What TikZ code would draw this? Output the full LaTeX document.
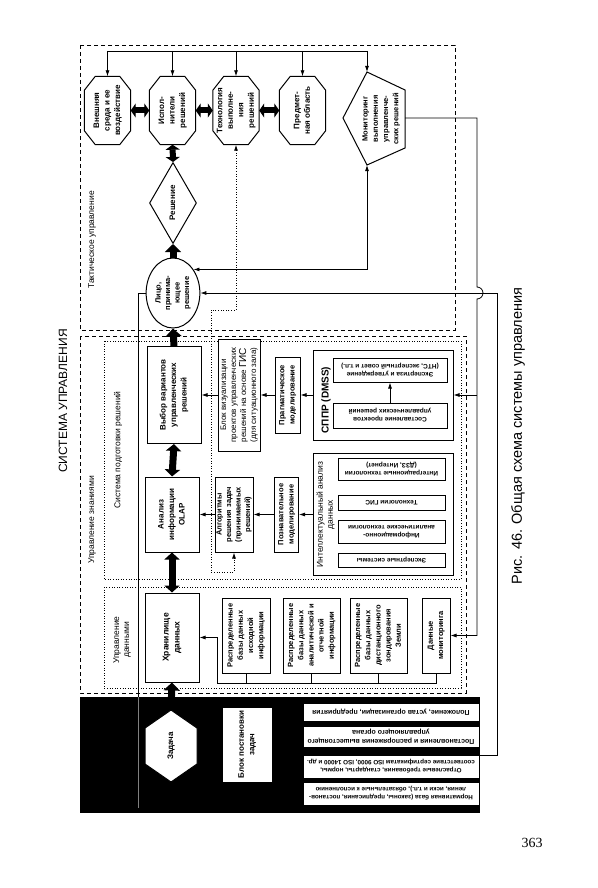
\documentclass[tikz,border=0pt]{standalone}
\usepackage{fontspec}
\setmainfont{Liberation Sans}
\newfontfamily\pnfont{Liberation Serif}
\usepackage{graphicx}
\usetikzlibrary{arrows.meta,shapes.geometric,calc}
\newcommand\rl[1]{\rotatebox{90}{\begin{tabular}{@{}c@{}}#1\end{tabular}}}
\newcommand\rd[1]{\rotatebox{180}{\begin{tabular}{@{}c@{}}#1\end{tabular}}}
\newcommand\octnode[4]{%
  \node[bl, minimum width=46pt, minimum height=68pt] (#1) at (#2,#3) {\rl{#4}};
  \draw[lw] ($(#1.north west)+(11,0)$) -- ($(#1.north east)+(-11,0)$) -- ($(#1.north east)+(0,14)$)
    -- ($(#1.south east)+(0,-14)$) -- ($(#1.south east)+(-11,0)$) -- ($(#1.south west)+(11,0)$)
    -- ($(#1.south west)+(0,-14)$) -- ($(#1.north west)+(0,14)$) -- cycle;}
\begin{document}
\begin{tikzpicture}[x=1pt,y=-1pt,
  lw/.style={line width=1pt},
  dsh/.style={line width=0.9pt, dash pattern=on 4pt off 3pt},
  dtt/.style={line width=0.9pt, dash pattern=on 1pt off 1.6pt},
  box/.style={draw, line width=1pt, fill=white, inner sep=0pt},
  bl/.style={font=\fontsize{8}{10.5}\selectfont\bfseries, inner sep=0pt},
  sm/.style={font=\fontsize{7.5}{10.2}\selectfont\bfseries, inner sep=0pt},
  tn/.style={font=\fontsize{6.5}{8}\selectfont\bfseries, inner sep=0pt},
  fr/.style={font=\fontsize{8.5}{10}\selectfont, inner sep=0pt},
  thk/.style={line width=7pt, {Triangle[width=15pt,length=7pt]}-{Triangle[width=15pt,length=7pt]}},
  thks/.style={line width=6pt, {Triangle[width=14pt,length=5pt]}-{Triangle[width=14pt,length=5pt]}},
  thku/.style={line width=7pt, -{Triangle[width=16pt,length=8pt]}},
  arr/.style={line width=0.8pt, -{Latex[length=6pt,width=4pt]}},
  arrb/.style={line width=0.8pt, {Latex[length=6pt,width=4pt]}-{Latex[length=6pt,width=4pt]}},
  ln/.style={line width=0.8pt}
]
\useasboundingbox (0,0) rectangle (597,888);
% frames
\draw[dsh] (80,45) rectangle (455,330);
\draw[dsh] (80,336) rectangle (466,693);
\draw[dtt] (104,341) rectangle (461,579);
\draw[dtt] (104,587) rectangle (461,688);
\node[fill=black, draw=black, minimum width=399pt, minimum height=115pt, inner sep=0pt] (band) at (279.5,754.5) {};
% frame labels
\node[fr, rotate=90] (ltac) at (92,240) {Тактическое управление};
\node[fr, rotate=90] (lknow) at (92,520) {Управление знаниями};
\node[fr, rotate=90] (lprep) at (118,450) {Система подготовки решений};
\node[fr, rotate=90, align=center] (ldata) at (122,640) {Управление\\данными};
% title, caption, page number
\node[font=\fontsize{12}{14}\selectfont, rotate=90] (title) at (63,401) {СИСТЕМА УПРАВЛЕНИЯ};
\node[font=\fontsize{14.5}{16}\selectfont, rotate=90] (cap) at (518,436) {Рис. 46. Общая схема системы управления};
\node[font=\pnfont\fontsize{14}{16}\selectfont] (pn) at (532,843) {363};
% tactical level
\octnode{ext}{107.5}{110.5}{Внешняя\\среда и ее\\воздействие}
\octnode{exe}{172.5}{110.5}{Испол-\\нители\\решений}
\octnode{tech}{236}{110.5}{\fontsize{8}{10}\selectfont Технология\\выполне-\\ния\\решений}
\octnode{subj}{302.5}{110.5}{Предмет-\\ная область}
\coordinate (montop) at (367,72);
\coordinate (monbot) at (367,165);
\coordinate (monright) at (405,118);
\coordinate (monleft) at (343,118);
\draw[lw] (montop) -- (405,90) -- (405,148) -- (monbot) -- (monleft) -- cycle;
\node[sm] (mon) at (381,119) {\rl{Мониторинг\\выполнения\\управленче-\\ских решений}};
\node[draw, lw, diamond, aspect=0.58, minimum width=47pt, minimum height=81pt, inner sep=0pt, bl] (dec) at (173,203) {\rl{Решение}};
\node[draw, lw, ellipse, minimum width=53pt, minimum height=70pt, inner sep=0pt, font=\fontsize{7.5}{9.5}\selectfont\bfseries] (lpr) at (173,293) {\rl{Лицо,\\принима-\\ющее\\решение}};
% decision preparation
\node[box, bl, minimum width=54pt, minimum height=97pt] (vyb) at (174,395) {\rl{Выбор вариантов\\управленческих\\решений}};
\node[box, font=\fontsize{8}{10}\selectfont, minimum width=42pt, minimum height=112pt] (viz) at (239,395) {\rl{Блок визуализации\\проектов управленческих\\решений на основе {\fontsize{10}{10}\selectfont ГИС}\\(для ситуационного зала)}};
\node[box, sm, minimum width=25pt, minimum height=76pt] (prag) at (287.5,395) {\rl{Прагматическое\\моделирование}};
\node[box, fill=none, minimum width=140pt, minimum height=90pt] (sppr) at (383,395) {};
\node[font=\fontsize{10}{12}\selectfont\bfseries, rotate=90] (lsppr) at (326,400) {СППР (DMSS)};
\node[box, tn, minimum width=114pt, minimum height=24pt] (eksp) at (390,370) {\rd{Экспертиза и утверждение\\(НТС, экспертный совет и т.п.)}};
\node[box, tn, minimum width=114pt, minimum height=25pt] (sost) at (390,415.5) {\rd{Составление проектов\\управленческих решений}};
\node[box, bl, minimum width=54pt, minimum height=75pt] (olap) at (172,514.5) {\rl{Анализ\\информации\\OLAP}};
\node[box, font=\fontsize{7.5}{9.5}\selectfont\bfseries, minimum width=38pt, minimum height=75pt] (algo) at (234,514.5) {\rl{Алгоритмы\\решения задач\\(принимаемых\\решений)}};
\node[box, sm, minimum width=24pt, minimum height=75pt] (pozn) at (286.5,514.5) {\rl{Познавательное\\моделирование}};
\node[box, fill=none, minimum width=140pt, minimum height=122pt] (ida) at (383,514.5) {};
\node[fr, rotate=90, align=center] (lida) at (325.5,514.5) {Интеллектуальный анализ\\данных};
\node[box, tn, minimum width=107pt, minimum height=22pt] (integ) at (391.5,469) {\rd{Интеграционные технологии\\(ДЗЗ, Интернет)}};
\node[box, tn, minimum width=107pt, minimum height=15pt] (gis) at (391.5,502.5) {\rd{Технологии ГИС}};
\node[box, tn, minimum width=107pt, minimum height=23pt] (iat) at (391.5,531.5) {\rd{Информационно-\\аналитические технологии}};
\node[box, tn, minimum width=107pt, minimum height=14pt] (es) at (391.5,560) {\rd{Экспертные системы}};
% data management
\node[box, font=\fontsize{8.5}{11}\selectfont\bfseries, minimum width=54pt, minimum height=89pt] (store) at (172,637.5) {\rl{Хранилище\\данных}};
\node[box, sm, minimum width=48pt, minimum height=75pt] (rb1) at (246,635.5) {\rl{Распределенные\\базы данных\\исходной\\информации}};
\node[box, sm, minimum width=57pt, minimum height=75pt] (rb2) at (311.5,635.5) {\rl{Распределенные\\базы данных\\аналитической и\\отчетной\\информации}};
\node[box, sm, minimum width=57pt, minimum height=75pt] (rb3) at (378.5,635.5) {\rl{Распределенные\\базы данных\\дистанционного\\зондирования\\Земли}};
\node[box, sm, minimum width=28pt, minimum height=75pt] (dmon) at (436,635.5) {\rl{Данные\\мониторинга}};
% band contents
\draw[lw, fill=white] (171,710) -- (197,728) -- (197,764) -- (171,782) -- (145,764) -- (145,728) -- cycle;
\node[bl, minimum width=52pt, minimum height=72pt] (task) at (171,746) {\rl{Задача}};
\node[box, bl, minimum width=50pt, minimum height=75pt] (bpz) at (247,744.5) {\rl{Блок постановки\\задач}};
\node[box, font=\fontsize{7}{8.5}\selectfont\bfseries, minimum width=176pt, minimum height=18pt] (s1) at (391,712) {\rd{Положение, устав организации, предприятия}};
\node[box, font=\fontsize{7}{8.5}\selectfont\bfseries, minimum width=176pt, minimum height=21pt] (s2) at (391,736.5) {\rd{Постановления и распоряжения вышестоящего\\управляющего органа}};
\node[box, font=\fontsize{6.3}{8}\selectfont\bfseries, minimum width=176pt, minimum height=23pt] (s3) at (391,766.5) {\rd{Отраслевые требования, стандарты, нормы,\\соответствие сертификатам ISO 9000, ISO 14000 и др.}};
\node[box, font=\fontsize{6.3}{8}\selectfont\bfseries, minimum width=176pt, minimum height=23pt] (s4) at (391,793.5) {\rd{Нормативная база (законы, предписания, постанов-\\ления, иски и т.п.), обязательные к исполнению}};
% top bus
\coordinate (busL) at (107.5,51);
\coordinate (busR) at (367,51);
\draw[ln] (busL) -- (busR);
\draw[arr] (busL) -- (ext.north);
\draw[arr] (busL -| exe.north) -- (exe.north);
\draw[arr] (busL -| tech.north) -- (tech.north);
\draw[arr] (busL -| subj.north) -- (subj.north);
\draw[arr] (busR) -- (montop);
% thick arrows
\draw[thks] (ext.east) -- (exe.west);
\draw[thks] (exe.east) -- (tech.west);
\draw[thks] (tech.east) -- (subj.west);
\draw[thks] (exe.south) -- (dec.north);
\draw[thku] (lpr.north) -- (dec.south);
\draw[thku] (vyb.north) -- (lpr.south);
\draw[thk] (olap.north) -- (vyb.south);
\draw[thk] (store.north) -- (olap.south);
\draw[thku] (task.north) -- (store.south);
% dotted link
\coordinate (dA) at (211,310);
\coordinate (dB) at (211,572);
\draw[dtt, {Latex[length=6pt,width=4pt]}-{Latex[length=6pt,width=4pt]}] (tech.south) |- (dA) -- (dB) -| (algo.south);
% thin arrows
\draw[arr] (viz.west) -- (vyb.east);
\draw[arr] (prag.west) -- (viz.east);
\draw[arr] (sppr.west) -- (prag.east);
\draw[arr] (sost.north) -- (eksp.south);
\draw[arr] (algo.west) -- (olap.east);
\draw[arr] (pozn.west) -- (algo.east);
\draw[arr] (ida.west) -- (pozn.east);
% monitoring links
\draw[arrb] (monbot) |- (lpr.49);
\coordinate (mX) at (477,118);
\coordinate (j1) at (477,287);
\draw[arr] (monright) -- (mX) -- (j1) arc[start angle=90, end angle=-90, radius=6pt] -- (mX |- dmon.east) -- (dmon.east);
\draw[arr] (mX |- sppr.east) -- (sppr.east);
\coordinate (rB) at (497,755);
\draw[arr] (band.east |- rB) -- (rB) |- (lpr.east);
% left feedback line
\coordinate (lB) at (138,808);
\draw[ln] (lpr.west) -| (lB);
\draw[ln, gray] (138,697) -- (lB);
% data bus
\coordinate (dbus) at (217,683);
\draw[ln] (dmon.south) |- (dbus);
\draw[ln] (rb1.south) -- (rb1.south |- dbus);
\draw[ln] (rb2.south) -- (rb2.south |- dbus);
\draw[ln] (rb3.south) -- (rb3.south |- dbus);
\draw[arr] (dbus) |- (store.east);
\end{tikzpicture}
\end{document}
